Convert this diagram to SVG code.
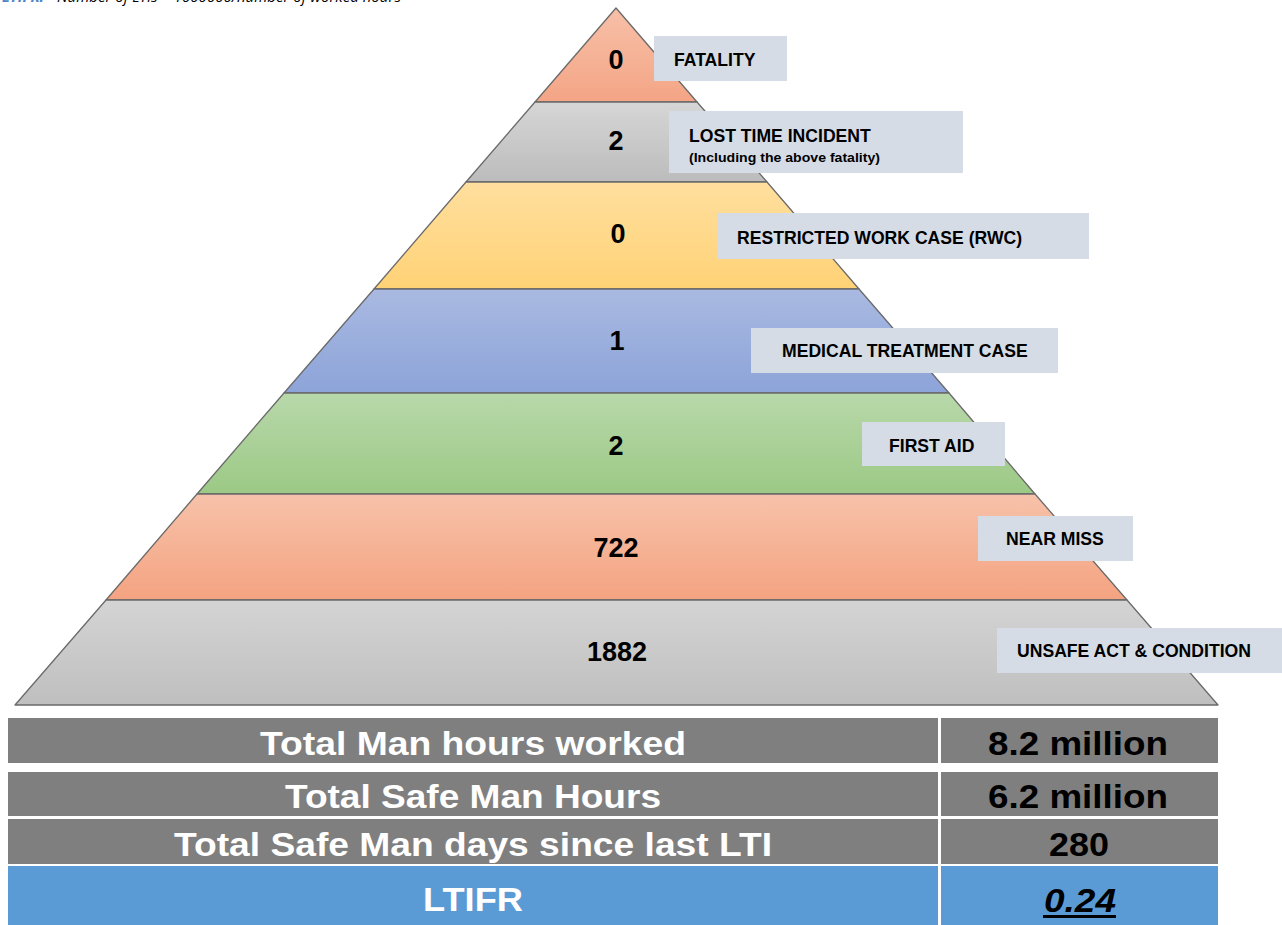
<svg xmlns="http://www.w3.org/2000/svg" width="1282" height="925" viewBox="0 0 1282 925">
<defs>
<linearGradient id="gFat" x1="0" y1="0" x2="0" y2="1"><stop offset="0" stop-color="#f7c0a8"/><stop offset="1" stop-color="#f4a585"/></linearGradient>
<linearGradient id="gLti" x1="0" y1="0" x2="0" y2="1"><stop offset="0" stop-color="#d6d6d6"/><stop offset="1" stop-color="#bcbcbc"/></linearGradient>
<linearGradient id="gRwc" x1="0" y1="0" x2="0" y2="1"><stop offset="0" stop-color="#ffdf9e"/><stop offset="1" stop-color="#ffd276"/></linearGradient>
<linearGradient id="gMtc" x1="0" y1="0" x2="0" y2="1"><stop offset="0" stop-color="#a9b9e1"/><stop offset="1" stop-color="#8da4d9"/></linearGradient>
<linearGradient id="gFa" x1="0" y1="0" x2="0" y2="1"><stop offset="0" stop-color="#b8d8aa"/><stop offset="1" stop-color="#9cc985"/></linearGradient>
<linearGradient id="gNm" x1="0" y1="0" x2="0" y2="1"><stop offset="0" stop-color="#f7c2aa"/><stop offset="1" stop-color="#f4a381"/></linearGradient>
<linearGradient id="gUa" x1="0" y1="0" x2="0" y2="1"><stop offset="0" stop-color="#d4d4d4"/><stop offset="1" stop-color="#bfbfbf"/></linearGradient>
</defs>
<style>
.band{stroke:#6a6a6a;stroke-width:1.3;stroke-linejoin:round}
.lbl{fill:#d6dce5}
.lt{font-family:"Liberation Sans",Arial,sans-serif;font-weight:bold;font-size:17.6px;fill:#000}
.sub{font-family:"Liberation Sans",Arial,sans-serif;font-weight:bold;font-size:12.5px;fill:#000}
.num{font-family:"Liberation Sans",Arial,sans-serif;font-weight:bold;font-size:27px;fill:#000;text-anchor:middle}
.cell{fill:#7f7f7f}
.cellb{fill:#5b9bd5}
.tl{font-family:"Liberation Sans",Arial,sans-serif;font-weight:bold;font-size:33px;fill:#fff;text-anchor:middle}
.tr{font-family:"Liberation Sans",Arial,sans-serif;font-weight:bold;font-size:33px;fill:#000;text-anchor:middle}
.hdr{font-family:"Open Sans","Liberation Sans",sans-serif;font-style:italic;font-size:15px}
</style>
<text class="hdr" x="2" y="2"><tspan fill="#4a86c8" font-weight="bold">LTIFR:</tspan><tspan x="57" fill="#000">Number of LTIs × 1000000/number of worked hours</tspan></text>

<g id="pyramid">
<g id="band-fatality"><polygon class="band" fill="url(#gFat)" points="616,8 697,102 535,102"/><text class="num" x="616" y="69">0</text></g>
<g id="band-lti"><polygon class="band" fill="url(#gLti)" points="535,102 697,102 767,182 466,182"/><text class="num" x="616" y="150">2</text></g>
<g id="band-rwc"><polygon class="band" fill="url(#gRwc)" points="466,182 767,182 859,289 374,289"/><text class="num" x="618" y="243">0</text></g>
<g id="band-mtc"><polygon class="band" fill="url(#gMtc)" points="374,289 859,289 949,393 284,393"/><text class="num" x="617" y="350">1</text></g>
<g id="band-fa"><polygon class="band" fill="url(#gFa)" points="284,393 949,393 1035,494 197,494"/><text class="num" x="616" y="455">2</text></g>
<g id="band-nm"><polygon class="band" fill="url(#gNm)" points="197,494 1035,494 1127,600 106,600"/><text class="num" x="616" y="557">722</text></g>
<g id="band-ua"><polygon class="band" fill="url(#gUa)" points="106,600 1127,600 1218,705 15,705"/><text class="num" x="617" y="661">1882</text></g>
</g>

<g id="labels">
<g id="lbl-fatality"><rect class="lbl" x="654" y="36" width="133" height="45"/><text class="lt" x="674" y="66">FATALITY</text></g>
<g id="lbl-lti"><rect class="lbl" x="669" y="111" width="294" height="62"/><text class="lt" x="689" y="142">LOST TIME INCIDENT</text><text class="sub" x="689" y="162" textLength="191" lengthAdjust="spacingAndGlyphs">(Including the above fatality)</text></g>
<g id="lbl-rwc"><rect class="lbl" x="717" y="213" width="372" height="46"/><text class="lt" x="737" y="244">RESTRICTED WORK CASE (RWC)</text></g>
<g id="lbl-mtc"><rect class="lbl" x="751" y="328" width="307" height="45"/><text class="lt" x="782" y="357">MEDICAL TREATMENT CASE</text></g>
<g id="lbl-fa"><rect class="lbl" x="862" y="422" width="143" height="44"/><text class="lt" x="889" y="452">FIRST AID</text></g>
<g id="lbl-nm"><rect class="lbl" x="978" y="516" width="155" height="45"/><text class="lt" x="1006" y="545">NEAR MISS</text></g>
<g id="lbl-ua"><rect class="lbl" x="997" y="628" width="285" height="45"/><text class="lt" x="1017" y="657">UNSAFE ACT &amp; CONDITION</text></g>
</g>

<g id="table">
<g id="row1"><rect class="cell" x="8" y="718" width="930" height="45"/><rect class="cell" x="941" y="718" width="277" height="45"/>
<text class="tl" x="473" y="755" textLength="426" lengthAdjust="spacingAndGlyphs">Total Man hours worked</text>
<text class="tr" x="1078" y="755" textLength="180" lengthAdjust="spacingAndGlyphs">8.2 million</text></g>
<g id="row2"><rect class="cell" x="8" y="772" width="930" height="44"/><rect class="cell" x="941" y="772" width="277" height="44"/>
<text class="tl" x="473" y="808" textLength="376" lengthAdjust="spacingAndGlyphs">Total Safe Man Hours</text>
<text class="tr" x="1078" y="808" textLength="180" lengthAdjust="spacingAndGlyphs">6.2 million</text></g>
<g id="row3"><rect class="cell" x="8" y="819" width="930" height="45"/><rect class="cell" x="941" y="819" width="277" height="45"/>
<text class="tl" x="473" y="856" textLength="598" lengthAdjust="spacingAndGlyphs">Total Safe Man days since last LTI</text>
<text class="tr" x="1079" y="856" textLength="60" lengthAdjust="spacingAndGlyphs">280</text></g>
<g id="row4"><rect class="cellb" x="8" y="866" width="930" height="59"/><rect class="cellb" x="941" y="866" width="277" height="59"/>
<text class="tl" x="473" y="911" textLength="100" lengthAdjust="spacingAndGlyphs">LTIFR</text>
<text class="tr" x="1080" y="912" font-style="italic" textLength="72" lengthAdjust="spacingAndGlyphs">0.24</text>
<rect x="1043" y="915" width="73" height="3" fill="#000"/></g>
</g>
</svg>
